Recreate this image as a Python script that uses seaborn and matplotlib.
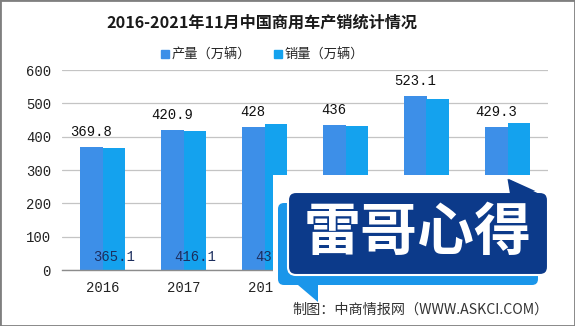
import numpy as np
import pandas as pd
import seaborn as sns
import matplotlib
matplotlib.use("Agg")
import matplotlib.pyplot as plt
from matplotlib.patches import FancyBboxPatch, Polygon, Rectangle
from matplotlib.lines import Line2D
from matplotlib.transforms import Affine2D

# ---- data ----
years = ["2016", "2017", "2018", "2019", "2020", "2021"]
production = [369.8, 420.9, 428, 436, 523.1, 429.3]
sales = [365.1, 416.1, 437.1, 432.4, 513.3, 440.3]
series_names = ["产量（万辆）", "销量（万辆）"]
y_ticks = [0, 100, 200, 300, 400, 500, 600]
title = "2016-2021年11月中国商用车产销统计情况"
footer = "制图：中商情报网（WWW.ASKCI.COM）"
badge = "雷哥心得"
visible_sales_labels = 3  # the rest sit under the badge in the reference

c_prod = "#3d8fe8"
c_sales = "#14a2ee"

sns.set_theme(style="white")
plt.rcParams['font.family'] = ['Noto Sans CJK SC', 'DejaVu Sans']

W, H = 575, 326
fig = plt.figure(figsize=(W / 100, H / 100), dpi=100)
fig.patch.set_facecolor("white")
ax = fig.add_axes([62 / W, 1 - 270 / H, (548 - 62) / W, 200 / H])

df = pd.DataFrame({
    "year": years * 2,
    "value": production + sales,
    "series": [series_names[0]] * len(years) + [series_names[1]] * len(years),
})
sns.barplot(data=df, x="year", y="value", hue="series",
            palette=[c_prod, c_sales], width=0.56, saturation=1,
            ax=ax, legend=False, errorbar=None, linewidth=0, edgecolor="none")

ax.set_ylim(0, 600)
ax.set_xlim(-0.5, len(years) - 0.5)
ax.set_yticks(y_ticks)
ax.set_xlabel("")
ax.set_ylabel("")
ax.yaxis.grid(True, color="#c4c4c4", lw=0.9)
ax.xaxis.grid(False)
ax.set_axisbelow(True)
for s in ["left", "top", "right"]:
    ax.spines[s].set_visible(False)
ax.spines["bottom"].set_color("#8c8c8c")
ax.spines["bottom"].set_linewidth(1.0)

numfont = ["Liberation Mono", "DejaVu Sans Mono"]
ax.tick_params(axis="y", length=0, pad=8, labelsize=10, labelcolor="#222222")
ax.tick_params(axis="x", which="major", length=0, pad=8, labelsize=10, labelcolor="#222222")
ax.set_xticks(np.arange(-0.5, len(years) + 0.5, 1), minor=True)
ax.tick_params(axis="x", which="minor", length=4, width=1, color="#8c8c8c", direction="out")
for lab in ax.get_yticklabels() + ax.get_xticklabels():
    lab.set_fontfamily(numfont)

bars = ax.patches
prod_bars = bars[:len(years)]
sales_bars = bars[len(years):2 * len(years)]
for b, v in zip(prod_bars, production):
    ax.text(b.get_x() + b.get_width() / 2, v + 33, f"{v:g}", ha="center",
            va="baseline", fontsize=10, color="#111111", family=numfont)
for b, v in list(zip(sales_bars, sales))[:visible_sales_labels]:
    ax.text(b.get_x() + b.get_width() / 2, 39, f"{v:g}", ha="center",
            va="center", fontsize=10, color="#1c2e5e", family=numfont)

# title + legend
fig.text(262 / W, 1 - 23 / H, title, ha="center", va="center",
         fontsize=11.6, fontweight="bold", color="#1a1a1a")
handles = [Line2D([], [], marker="s", ls="", color=c, markersize=6) for c in [c_prod, c_sales]]
fig.legend(handles, series_names, loc="center", bbox_to_anchor=(262 / W, 1 - 55 / H),
           ncol=2, frameon=False, fontsize=9.5, handletextpad=0.1,
           columnspacing=1.6, handlelength=0.8)

# overlay badge (pixel coordinates, origin top-left)
tr = Affine2D().scale(1 / 100, -1 / 100).translate(0, H / 100) + fig.dpi_scale_trans
lb = "#1a96ea"
navy = "#0c3a8a"
fig.patches.append(Rectangle((273, 175), 283, 128, facecolor="white", edgecolor="none",
                             transform=tr, zorder=9))
fig.patches.append(Polygon([(278, 268), (318, 302), (318, 280)], closed=True,
                           facecolor=lb, edgecolor="none", transform=tr, zorder=10))
fig.patches.append(FancyBboxPatch((278, 203), 260, 82, boxstyle="round,pad=0,rounding_size=6",
                                  facecolor=lb, edgecolor="none", transform=tr, zorder=10))
fig.patches.append(Polygon([(507, 177), (510, 196), (549, 196)], closed=True,
                           facecolor=navy, edgecolor="white", lw=1.5, transform=tr, zorder=11))
fig.patches.append(FancyBboxPatch((288, 192), 260, 83, boxstyle="round,pad=0,rounding_size=8",
                                  facecolor=navy, edgecolor="white", lw=1.5, transform=tr, zorder=12))
fig.patches.append(Polygon([(507.5, 179), (510.5, 197), (546, 197)], closed=True,
                           facecolor=navy, edgecolor="none", transform=tr, zorder=13))
fig.text(418 / W, 1 - 233 / H, badge, ha="center", va="center", fontsize=41,
         fontweight="black", color="white", zorder=14)

fig.text(292 / W, 1 - 310 / H, footer, ha="left", va="center", fontsize=10.2,
         color="#333333", zorder=14)

fig.patches.append(Rectangle((0, 0), 1, 1, transform=fig.transFigure, fill=False,
                             edgecolor="#7f7f7f", lw=2, zorder=20))

fig.savefig("out.png", dpi=100, facecolor="white")
